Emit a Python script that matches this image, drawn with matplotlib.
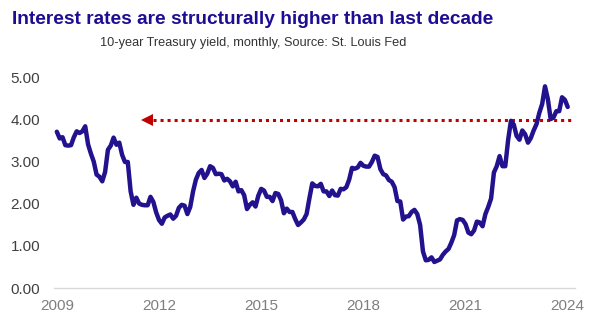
import matplotlib
matplotlib.use('Agg')
import matplotlib.pyplot as plt
import numpy as np

# 10-year Treasury yield, monthly, Jun 2009 .. Jun 2024
y2009 = [3.72, 3.56, 3.59, 3.40, 3.39, 3.40, 3.59]  # Jun-Dec
y2010 = [3.73, 3.69, 3.73, 3.85, 3.42, 3.20, 3.01, 2.70, 2.65, 2.54, 2.76, 3.29]
y2011 = [3.39, 3.58, 3.41, 3.46, 3.17, 3.00, 3.00, 2.30, 1.98, 2.15, 2.01, 1.98]
y2012 = [1.97, 1.97, 2.17, 2.05, 1.80, 1.62, 1.53, 1.68, 1.72, 1.75, 1.65, 1.72]
y2013 = [1.91, 1.98, 1.96, 1.76, 1.93, 2.30, 2.58, 2.74, 2.81, 2.62, 2.72, 2.90]
y2014 = [2.86, 2.71, 2.72, 2.71, 2.56, 2.60, 2.54, 2.42, 2.53, 2.30, 2.33, 2.21]
y2015 = [1.88, 1.98, 2.04, 1.94, 2.20, 2.36, 2.32, 2.17, 2.17, 2.07, 2.26, 2.24]
y2016 = [2.09, 1.78, 1.89, 1.81, 1.81, 1.64, 1.50, 1.56, 1.63, 1.76, 2.14, 2.49]
y2017 = [2.43, 2.42, 2.48, 2.30, 2.30, 2.19, 2.32, 2.21, 2.20, 2.36, 2.35, 2.40]
y2018 = [2.58, 2.86, 2.84, 2.87, 2.98, 2.91, 2.89, 2.89, 3.00, 3.15, 3.12, 2.83]
y2019 = [2.71, 2.68, 2.57, 2.53, 2.40, 2.07, 2.06, 1.63, 1.70, 1.71, 1.81, 1.86]
y2020 = [1.76, 1.50, 0.87, 0.66, 0.67, 0.73, 0.62, 0.65, 0.68, 0.79, 0.87, 0.93]
y2021 = [1.08, 1.26, 1.61, 1.64, 1.62, 1.52, 1.32, 1.28, 1.37, 1.58, 1.56, 1.47]
y2022 = [1.76, 1.93, 2.13, 2.75, 2.90, 3.14, 2.90, 2.90, 3.52, 3.98, 3.89, 3.62]
y2023 = [3.53, 3.75, 3.66, 3.46, 3.57, 3.75, 3.90, 4.17, 4.38, 4.80, 4.50, 4.02]
y2024 = [4.06, 4.21, 4.21, 4.54, 4.48, 4.31]  # Jan-Jun

yields = (y2009 + y2010 + y2011 + y2012 + y2013 + y2014 + y2015 + y2016
          + y2017 + y2018 + y2019 + y2020 + y2021 + y2022 + y2023 + y2024)

year_labels = ['2009', '2012', '2015', '2018', '2021', '2024']
ytick_values = [0, 1, 2, 3, 4, 5]

ref_level = 4.0  # "last decade" reference line

TITLE = 'Interest rates are structurally higher than last decade'
SUBTITLE = '10-year Treasury yield, monthly, Source: St. Louis Fed'

plt.rcParams['font.family'] = ['Liberation Sans', 'DejaVu Sans']

fig = plt.figure(figsize=(6.0, 3.29), dpi=100)
ax = fig.add_axes([0.09, 0.1246, 0.868, 0.6384])

x = np.arange(len(yields))
ax.plot(x, yields, color='#22128e', lw=3.2, solid_joinstyle='round',
        solid_capstyle='round', zorder=3)

# ── dotted red arrow at 4% ────────────────────────────────────────────────
ax.plot([33.8, len(yields) + 1.5], [ref_level, ref_level], color='#c00000',
        lw=2.2, linestyle=(0, (1, 1.3)), zorder=2)
ax.plot([31.9], [ref_level], marker='<', color='#c00000', markersize=8,
        markeredgewidth=0, zorder=2)

ax.set_xlim(-1, 182.5)
ax.set_ylim(0, 5)

ax.set_xticks(np.arange(0, len(yields), 36))
ax.set_xticklabels(year_labels)
ax.set_yticks(ytick_values)
ax.set_yticklabels([f'{v:.2f}' for v in ytick_values])

ax.tick_params(axis='x', length=0, pad=8, labelsize=11, labelcolor='#7f7f7f')
ax.tick_params(axis='y', length=0, pad=10, labelsize=11, labelcolor='#404040')

for side in ('top', 'right', 'left'):
    ax.spines[side].set_visible(False)
ax.spines['bottom'].set_color('#d9d9d9')
ax.spines['bottom'].set_linewidth(1.0)

fig.text(253 / 600, 1 - 20 / 329, TITLE, ha='center', va='center',
         fontsize=13.8, fontweight='bold', color='#1c0d92')
fig.text(253 / 600, 1 - 43 / 329, SUBTITLE, ha='center', va='center',
         fontsize=9.2, color='#333333')

fig.savefig('out.png', dpi=100)
